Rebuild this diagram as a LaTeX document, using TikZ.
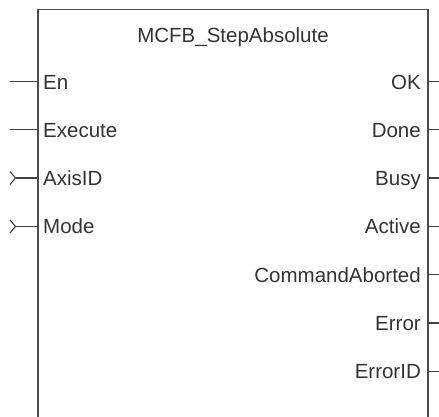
\documentclass[tikz,border=0pt]{standalone}
\usepackage{fontspec}
\setmainfont{Liberation Sans}
\begin{document}
\begin{tikzpicture}[x=1pt,y=-1pt,
  fbline/.style={draw=black!70,line width=1.3pt},
  pinline/.style={draw=black!75,line width=1.1pt},
  inlabel/.style={anchor=base west,inner sep=0pt,text=black!80,font=\fontsize{20.5}{24}\selectfont},
  outlabel/.style={anchor=base east,inner sep=0pt,text=black!80,font=\fontsize{20.5}{24}\selectfont},
  titlelabel/.style={anchor=base,inner sep=0pt,text=black!80,font=\fontsize{20.5}{24}\selectfont}]
\useasboundingbox (0,0) rectangle (439,416);
\node[draw=none,minimum width=389.7pt,minimum height=420pt,anchor=north west,inner sep=0pt] (fb) at (38,9.3) {};
\draw[fbline] (fb.south west) -- (fb.north west) -- (fb.north east) -- (fb.south east);
\node[titlelabel] (title) at (233,42) {MCFB\_StepAbsolute};
% inputs
\foreach \nm/\lab/\yy in {en/En/81.7,ex/Execute/129.7}{
  \coordinate (\nm p) at (38,\yy);
  \coordinate (\nm s) at (10,\yy);
  \node[inlabel] (\nm) at (43,\yy+7.3) {\lab};
  \draw[pinline] (\nm s) -- (\nm p);
}
\foreach \nm/\lab/\yy in {ax/AxisID/178,mo/Mode/226.5}{
  \coordinate (\nm p) at (38,\yy);
  \coordinate (\nm s) at (15.5,\yy);
  \node[inlabel] (\nm) at (43,\yy+7.3) {\lab};
  \draw[pinline] (\nm s) -- (\nm p);
  \draw[pinline] ([xshift=-5.5pt,yshift=-6.5pt]\nm s) -- (\nm s) -- ([xshift=-5.5pt,yshift=6.5pt]\nm s);
}
% outputs
\foreach \nm/\lab/\yy in {ok/OK/81.7,dn/Done/129.7,bs/Busy/178,ac/Active/226.5,ca/CommandAborted/274.8,er/Error/323,ei/ErrorID/371.5}{
  \coordinate (\nm p) at (427.7,\yy);
  \coordinate (\nm e) at (439,\yy);
  \node[outlabel] (\nm) at (421,\yy+7.3) {\lab};
  \draw[pinline] (\nm p) -- (\nm e);
}
\end{tikzpicture}
\end{document}
